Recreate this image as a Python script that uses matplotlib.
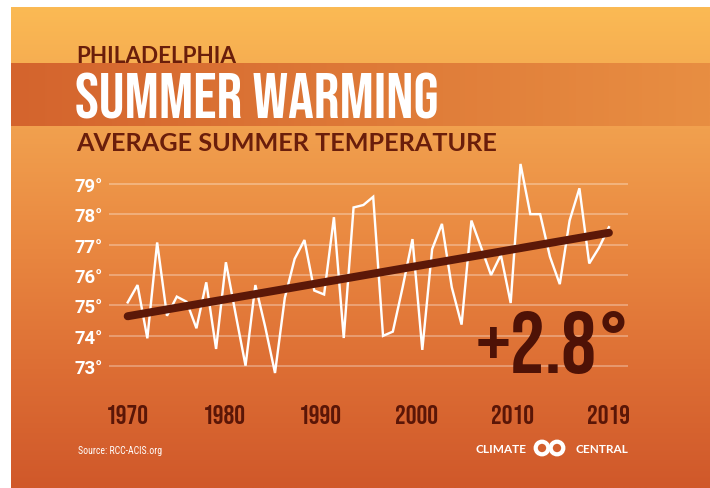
import numpy as np
import matplotlib
matplotlib.use("Agg")
import matplotlib.pyplot as plt
from matplotlib.patches import Circle
from matplotlib import font_manager

# ---------------- data ----------------
years = list(range(1970, 2020))
temps = [75.10, 75.67, 73.92, 77.07, 74.66, 75.29, 75.12, 74.25, 75.76, 73.57,
         76.42, 74.70, 73.02, 75.67, 74.30, 72.78, 75.25, 76.53, 77.15, 75.49,
         75.36, 77.90, 73.93, 78.22, 78.30, 78.57, 74.00, 74.14, 75.60, 77.18,
         73.54, 76.85, 77.68, 75.60, 74.37, 77.79, 76.90, 76.00, 76.66, 75.08,
         79.65, 78.00, 78.00, 76.60, 75.70, 77.79, 78.85, 76.38, 76.90, 77.57]
y_ticks = [73, 74, 75, 76, 77, 78, 79]
y_tick_labels = ["73°", "74°", "75°", "76°", "77°", "78°", "79°"]
x_tick_labels = ["1970", "1980", "1990", "2000", "2010", "2019"]
change_label = "+2.8°"
city = "PHILADELPHIA"
title = "SUMMER WARMING"
subtitle = "AVERAGE SUMMER TEMPERATURE"
source = "Source: RCC-ACIS.org"

# ---------------- fonts ----------------
def pick(names):
    for n in names:
        try:
            font_manager.findfont(font_manager.FontProperties(family=n), fallback_to_default=False)
            return n
        except Exception:
            pass
    return "DejaVu Sans"

def pick_bold(names):
    fl = font_manager.fontManager.ttflist
    for n in names:
        for f in fl:
            if f.name == n and isinstance(f.weight, int) and 650 <= f.weight <= 800 \
                    and f.style == "normal" and f.stretch == "normal":
                return n
    return "DejaVu Sans"

BEBAS = pick(["Bebas Neue", "Oswald", "Barlow Condensed", "DejaVu Sans"])
GEO = pick_bold(["Albert Sans", "Lato", "Open Sans", "DejaVu Sans"])
ROBO = pick_bold(["Roboto", "Open Sans", "DejaVu Sans"])
SMALL = pick(["Roboto Condensed", "Barlow Condensed", "Asap Condensed", "DejaVu Sans"])

W, H = 710, 489
fig = plt.figure(figsize=(W / 100, H / 100), dpi=100)
fig.patch.set_facecolor("white")

def fx(px):
    return px / W

def fy(py):
    return 1 - py / H

def pt(px):
    return px * 0.72

# ---------------- background ----------------
bg = fig.add_axes([0, 0, 1, 1])
bg.axis("off")

stops_y = np.array([8, 130, 250, 370, 489])
stops_c = np.array([[251, 186, 84], [241, 160, 78], [233, 135, 64],
                    [221, 110, 52], [208, 88, 42]]) / 255.0
ys = np.linspace(8, 489, 400)
grad = np.stack([np.interp(ys, stops_y, stops_c[:, k]) for k in range(3)], axis=-1)
grad = np.repeat(grad[:, None, :], 2, axis=1)
bg.imshow(grad, extent=[11, W, 489, 8], aspect="auto", interpolation="bilinear", zorder=0)

xs = np.linspace(0, 1, 300)
band_l = np.array([212, 100, 45]) / 255.0
band_r = np.array([232, 142, 66]) / 255.0
band = np.array([[band_l * (1 - t) + band_r * t for t in xs]])
band = np.repeat(band, 2, axis=0)
bg.imshow(band, extent=[11, W, 127, 64.3], aspect="auto", interpolation="bilinear", zorder=1)
bg.set_xlim(0, W)
bg.set_ylim(H, 0)

dark = "#6a1e0b"
bg.text(76, 62.7, city, fontsize=pt(22.5), fontweight="bold", family=GEO,
        color=dark, va="baseline", ha="left", zorder=3)
bg.text(75, 118.3, title, fontsize=pt(64), family=BEBAS,
        color="white", va="baseline", ha="left", zorder=3)
bg.text(76, 150.7, subtitle, fontsize=pt(25.2), fontweight="bold", family=GEO,
        color=dark, va="baseline", ha="left", zorder=3)

bg.text(78, 451, source, fontsize=pt(9.8), family=SMALL, color="white",
        va="center", ha="left", zorder=3)
bg.text(476, 449.5, "CLIMATE", fontsize=pt(11.8), fontweight="bold", family=GEO,
        color="white", va="center", ha="left", zorder=3)
bg.text(628, 449.5, "CENTRAL", fontsize=pt(11.8), fontweight="bold", family=GEO,
        color="white", va="center", ha="right", zorder=3)
for cx in (542.0, 557.0):
    bg.add_patch(Circle((cx, 449), 6.3, facecolor="none", edgecolor="white",
                        linewidth=pt(4.2), zorder=3))

# ---------------- chart axes ----------------
ax_l, ax_r = 109, 628
ax_t, ax_b = 150, 385
ax = fig.add_axes([fx(ax_l), fy(ax_b), fx(ax_r) - fx(ax_l), fy(ax_t) - fy(ax_b)])
ax.patch.set_alpha(0)
for s in ax.spines.values():
    s.set_visible(False)

ppy = 9.82
ppd = 30.43
ax.set_xlim(1970 - (127.7 - ax_l) / ppy, 1970 + (ax_r - 127.7) / ppy)
ax.set_ylim(73 - (ax_b - 367.3) / ppd, 73 + (367.3 - ax_t) / ppd)

for v in y_ticks:
    ax.axhline(v, color="white", alpha=0.32, lw=1.3, zorder=1)

ax.plot(years, temps, color="white", lw=pt(2.4), solid_joinstyle="miter", zorder=3)

coef = np.polyfit(years, temps, 1)
tx = np.array([years[0], years[-1]])
ax.plot(tx, np.polyval(coef, tx), color="#5c1808", lw=pt(8),
        solid_capstyle="round", zorder=4)

ax.set_yticks(y_ticks)
ax.set_yticklabels(y_tick_labels, fontsize=pt(18.5), fontweight="bold",
                   family=ROBO, color="white")
ax.tick_params(axis="y", length=0, pad=pt(6))

ax.set_xticks(np.linspace(years[0], years[-1], len(x_tick_labels)))
ax.set_xticklabels(x_tick_labels, fontsize=pt(27), family=[BEBAS, "DejaVu Sans"],
                   color="#5a1607")
ax.tick_params(axis="x", length=0, pad=pt(20))

ax.text(fx(631), fy(372.7), change_label,
        transform=fig.transFigure, fontsize=pt(87),
        family=[BEBAS, "DejaVu Sans"], color="#4e1206", ha="right",
        va="baseline", zorder=5)

fig.savefig("out.png", dpi=100, facecolor="white")
